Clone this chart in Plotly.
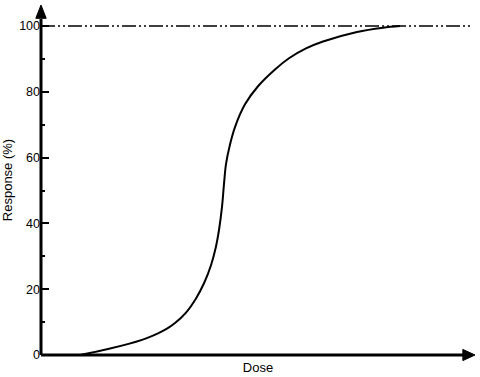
import plotly.graph_objects as go

# Data (dose in arbitrary units, response in %)
dose = [39, 67, 101, 117, 126, 134, 145, 155, 163, 170, 175, 178, 181, 183, 185, 189, 194, 204, 217, 234, 248, 265, 282, 316, 342, 359]
response = [0, 1.8, 4.6, 6.6, 8.0, 9.7, 12.9, 17.2, 21.8, 27.3, 33, 38, 45, 52, 58, 64, 69.3, 76.2, 81.7, 86.8, 90.2, 93.2, 95.3, 98.2, 99.5, 100]
y_ticks = [0, 20, 40, 60, 80, 100]
max_line = [100, 100]
max_x = [0, 429]

fig = go.Figure()
fig.add_trace(go.Scatter(x=max_x, y=max_line, mode="lines",
                         line=dict(color="black", width=1.5, dash="14px,3px,2px,3px,2px,3px"),
                         showlegend=False, hoverinfo="skip"))
fig.add_trace(go.Scatter(x=dose, y=response, mode="lines", line_shape="spline",
                         line=dict(color="black", width=2, smoothing=1.0), showlegend=False))

fig.update_layout(
    width=480, height=377,
    margin=dict(l=41, r=5, t=5, b=22),
    plot_bgcolor="white", paper_bgcolor="white",
    font=dict(family="Liberation Sans, Arial, sans-serif", size=12.5, color="black"),
    xaxis=dict(range=[0, 434], showgrid=False, zeroline=False, showline=False,
               showticklabels=False, ticks="",
               title=dict(text="Dose", standoff=7, font=dict(size=13))),
    yaxis=dict(range=[0, 106.4], showgrid=False, zeroline=False, showline=False,
               tickvals=y_ticks, ticktext=[str(v) for v in y_ticks],
               ticks="inside", ticklen=8, tickwidth=2, tickcolor="black",
               minor=dict(ticks="inside", ticklen=4, tickwidth=1.5, dtick=10, tickcolor="black"),
               title=dict(text="Response (%)", standoff=4, font=dict(size=13))),
    shapes=[
        # y axis line
        dict(type="line", xref="paper", yref="paper", x0=0, x1=0, y0=0, y1=0.96,
             line=dict(color="black", width=3)),
        # x axis line
        dict(type="line", xref="paper", yref="paper", x0=0, x1=0.975, y0=0, y1=0,
             line=dict(color="black", width=3)),
        # y arrow
        dict(type="path", xref="paper", yref="paper",
             path="M -0.012 0.962 L 0.012 0.962 L 0 1 Z",
             fillcolor="black", line=dict(color="black", width=1)),
        # x arrow
        dict(type="path", xref="paper", yref="paper",
             path="M 0.972 -0.016 L 0.972 0.016 L 1 0 Z",
             fillcolor="black", line=dict(color="black", width=1)),
    ],
)

fig.write_html("out.html")
